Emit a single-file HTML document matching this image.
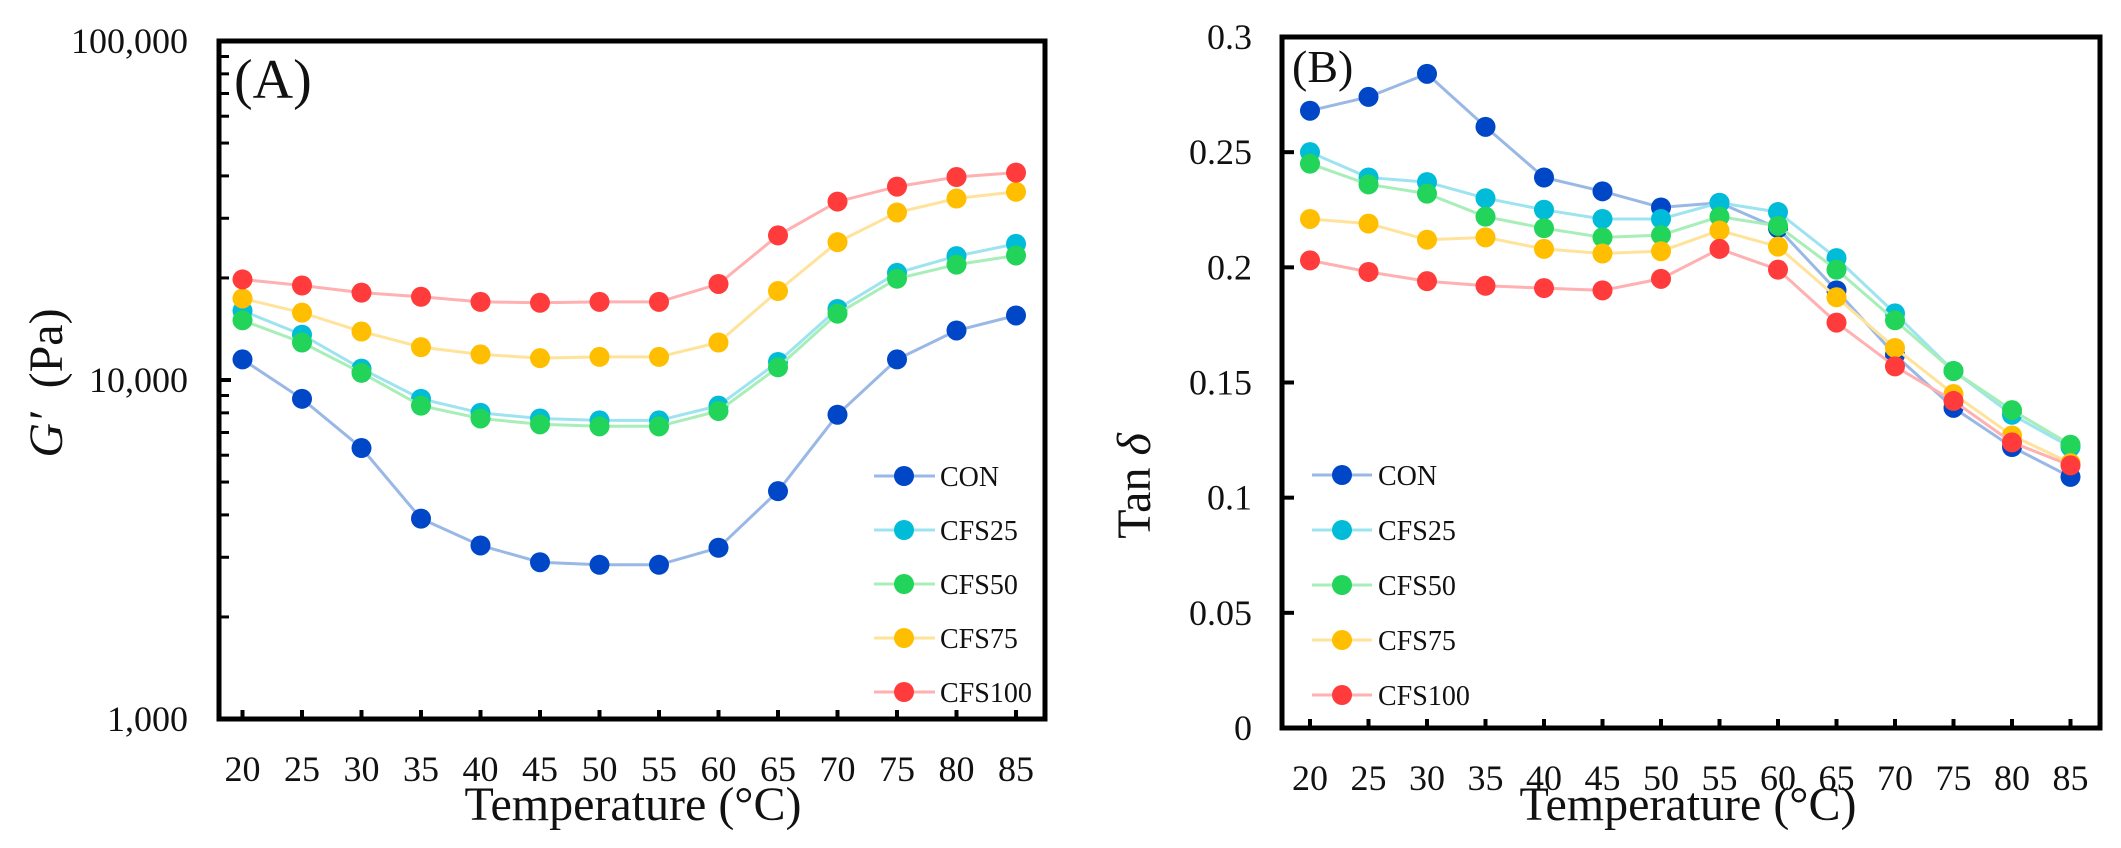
<!DOCTYPE html>
<html><head><meta charset="utf-8"><style>
html,body{margin:0;padding:0;background:#fff;}
svg{display:block;font-family:"Liberation Serif",serif;}
</style></head><body>
<svg id="fig" width="2121" height="848" viewBox="0 0 2121 848" xmlns="http://www.w3.org/2000/svg">
<g id="pa"></g>
<g id="pb"></g>
</svg>
<script>
const temps = [20,25,30,35,40,45,50,55,60,65,70,75,80,85];
const seriesNames = ["CON","CFS25","CFS50","CFS75","CFS100"];
const gCON = [11500,8800,6300,3900,3250,2900,2850,2850,3200,4700,7900,11500,14000,15500];
const gCFS25 = [16000,13600,10800,8800,8000,7700,7600,7600,8400,11300,16200,20700,23200,25200];
const gCFS50 = [15000,12900,10500,8400,7700,7400,7300,7300,8100,10900,15700,19900,21900,23300];
const gCFS75 = [17400,15800,13900,12500,11900,11600,11700,11700,12900,18300,25500,31200,34300,35900];
const gCFS100 = [19800,19000,18100,17600,17000,16900,17000,17000,19200,26700,33600,37200,39700,40900];
const tCON = [.268,.274,.284,.261,.239,.233,.226,.228,.217,.190,.162,.139,.122,.109];
const tCFS25 = [.250,.239,.237,.230,.225,.221,.221,.228,.224,.204,.180,.155,.136,.122];
const tCFS50 = [.245,.236,.232,.222,.217,.213,.214,.222,.218,.199,.177,.155,.138,.123];
const tCFS75 = [.221,.219,.212,.213,.208,.206,.207,.216,.209,.187,.165,.145,.127,.115];
const tCFS100 = [.203,.198,.194,.192,.191,.190,.195,.208,.199,.176,.157,.142,.124,.114];
const gTicks = [1000,10000,100000];
const gTickLabels = ["1,000","10,000","100,000"];
const tTicks = [0,0.05,0.1,0.15,0.2,0.25,0.3];
const tTickLabels = ["0","0.05","0.1","0.15","0.2","0.25","0.3"];

const markerColors = ["#0047c8","#00bcd8","#22d45a","#ffbf00","#ff3b3b"];
const lineColors = ["#9ab8e6","#9ee4f0","#a8eeb8","#ffe39a","#ffb0b0"];
const NS="http://www.w3.org/2000/svg";
function mk(parent,tag,attrs,text){const e=document.createElementNS(NS,tag);for(const k in attrs)e.setAttribute(k,attrs[k]);if(text!==undefined)e.textContent=text;parent.appendChild(e);return e;}

function drawPanel(g,cfg){
  const {L,T,R,B,xAt,yAt,data,keyPrefix}=cfg;
  data.forEach((vals,si)=>{
    const sg=mk(g,"g",{});
    
    
    const pts=vals.map((v,i)=>xAt(i).toFixed(1)+","+yAt(v).toFixed(1)).join(" ");
    const pl=mk(sg,"polyline",{points:pts,fill:"none",stroke:lineColors[si],"stroke-width":3});
    
    
    vals.forEach((v,i)=>{
      const c=mk(sg,"circle",{cx:xAt(i),cy:yAt(v),r:10,fill:markerColors[si]});
      
      
    });
  });
  const fr=mk(g,"rect",{x:L,y:T,width:R-L,height:B-T,fill:"none",stroke:"#000","stroke-width":5});
  
  
  temps.forEach((t,i)=>{
    const x=xAt(i);
    const tk=mk(g,"line",{x1:x,x2:x,y1:B,y2:B-9,stroke:"#000","stroke-width":4});
    
    
    const lb=mk(g,"text",{x:x,y:B+62,"font-size":36,"text-anchor":"middle",fill:"#111"},String(t));
    
    
  });
}

// Panel A
(function(){
  const g=document.getElementById("pa");
  const L=219,T=41,R=1045,B=719;
  const x0=242.5,dx=59.5;
  const xAt=i=>x0+i*dx;
  const yAt=v=>B-(Math.log10(v)-3)/2*(B-T);
  drawPanel(g,{L,T,R,B,xAt,yAt,data:[gCON,gCFS25,gCFS50,gCFS75,gCFS100],keyPrefix:"a"});
  for(let d=3;d<5;d++){for(let m=2;m<=9;m++){const y=yAt(m*Math.pow(10,d));
    const t=mk(g,"line",{x1:L,x2:L+10,y1:y,y2:y,stroke:"#000","stroke-width":3});
    
    }}
  gTicks.forEach((v,i)=>{const y=yAt(v);
    const t=mk(g,"line",{x1:L,x2:L+12,y1:y,y2:y,stroke:"#000","stroke-width":4});
    
    
    const lb=mk(g,"text",{x:188,y:y+12,"font-size":36,"text-anchor":"end",fill:"#111"},gTickLabels[i]);
    
    
  });
  const pl=mk(g,"text",{x:234,y:98,"font-size":56,fill:"#111"},"(A)");
  
  
  const xt=mk(g,"text",{x:633,y:820,"font-size":48,"text-anchor":"middle",fill:"#111"},"Temperature  (°C)");
  
  
  const yt=mk(g,"text",{x:0,y:0,"font-size":48,"text-anchor":"middle",fill:"#111",transform:"translate(62,383) rotate(-90)"});
  
  
  mk(yt,"tspan",{"font-style":"italic"},"G′");
  mk(yt,"tspan",{}," \u00a0(Pa)");
  seriesNames.forEach((n,si)=>{const y=476+si*54;
    const lg=mk(g,"g",{});
    
    
    mk(lg,"line",{x1:874,x2:935,y1:y,y2:y,stroke:lineColors[si],"stroke-width":3});
    mk(lg,"circle",{cx:904,cy:y,r:10,fill:markerColors[si]});
    mk(lg,"text",{x:940,y:y+10,"font-size":28,fill:"#111"},n);
  });
})();

// Panel B
(function(){
  const g=document.getElementById("pb");
  const L=1282,T=37,R=2100,B=728;
  const x0=1310,dx=58.5;
  const xAt=i=>x0+i*dx;
  const yAt=v=>B-v/0.3*(B-T);
  drawPanel(g,{L,T,R,B,xAt,yAt,data:[tCON,tCFS25,tCFS50,tCFS75,tCFS100],keyPrefix:"b"});
  tTicks.forEach((v,i)=>{const y=yAt(v);
    const t=mk(g,"line",{x1:L,x2:L+12,y1:y,y2:y,stroke:"#000","stroke-width":4});
    
    
    const lb=mk(g,"text",{x:1252,y:y+12,"font-size":36,"text-anchor":"end",fill:"#111"},tTickLabels[i]);
    
    
  });
  const pl=mk(g,"text",{x:1292,y:82,"font-size":46,fill:"#111"},"(B)");
  
  
  const xt=mk(g,"text",{x:1688,y:820,"font-size":48,"text-anchor":"middle",fill:"#111"},"Temperature (°C)");
  
  
  const yt=mk(g,"text",{x:0,y:0,"font-size":48,"text-anchor":"middle",fill:"#111",transform:"translate(1150,486) rotate(-90)"});
  
  
  mk(yt,"tspan",{},"Tan ");
  mk(yt,"tspan",{"font-style":"italic"},"δ");
  seriesNames.forEach((n,si)=>{const y=475+si*55;
    const lg=mk(g,"g",{});
    
    
    mk(lg,"line",{x1:1312,x2:1372,y1:y,y2:y,stroke:lineColors[si],"stroke-width":3});
    mk(lg,"circle",{cx:1342,cy:y,r:10,fill:markerColors[si]});
    mk(lg,"text",{x:1378,y:y+10,"font-size":28,fill:"#111"},n);
  });
})();
</script>
</body></html>
